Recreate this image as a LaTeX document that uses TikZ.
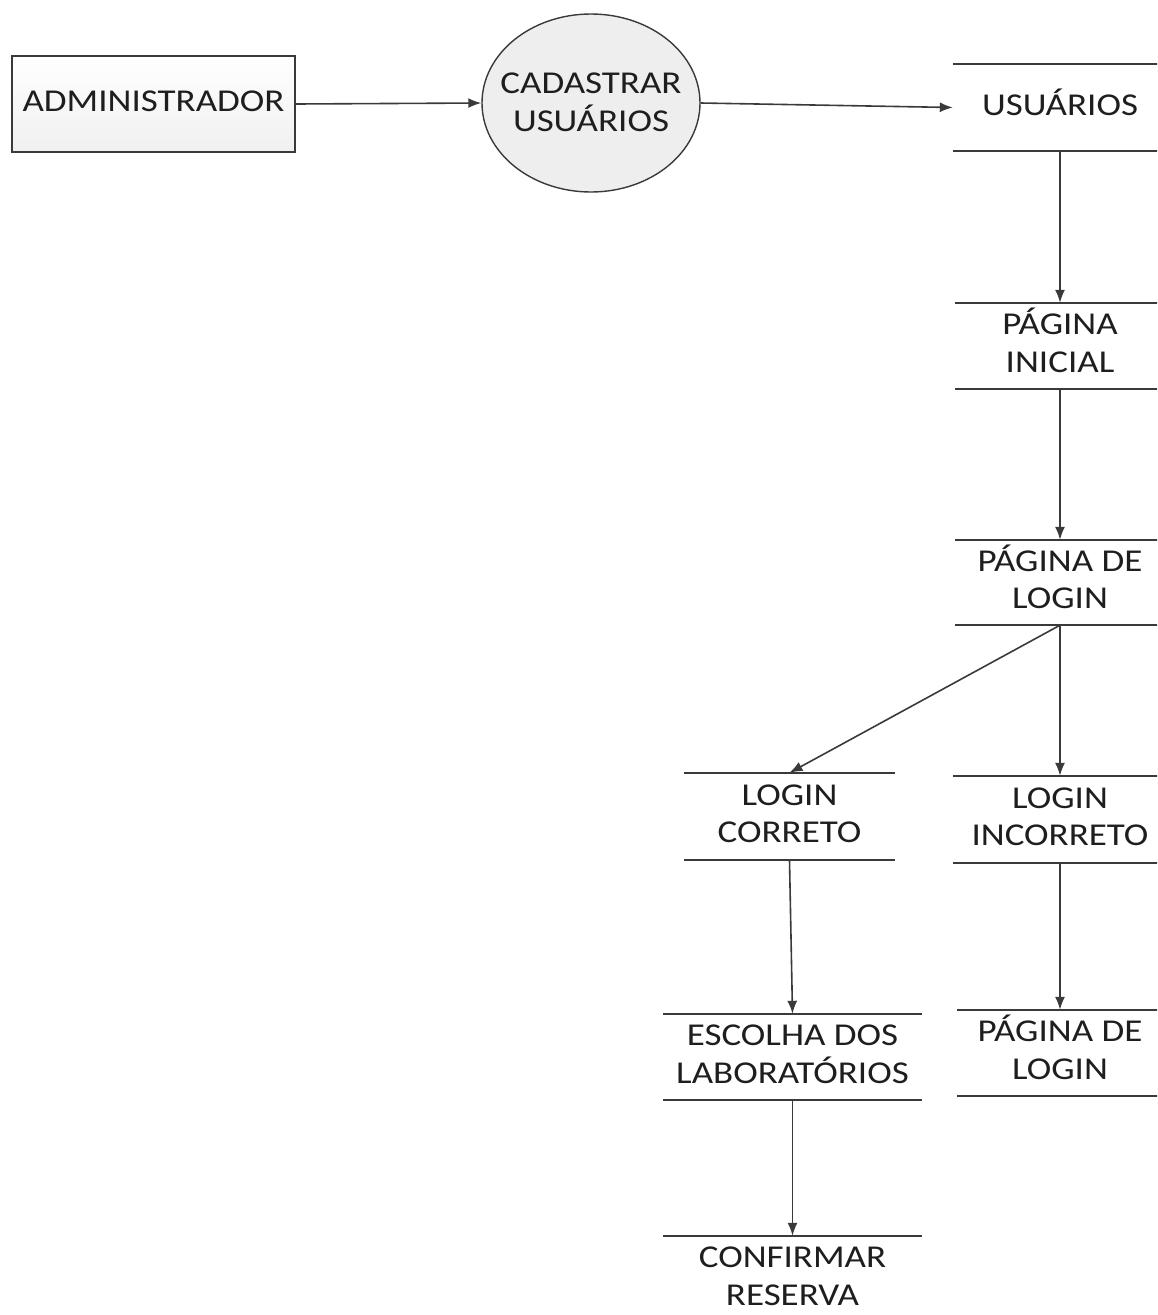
\documentclass[tikz,border=0pt]{standalone}
\usepackage{fontspec}
\usepackage{graphicx}
\setmainfont{Carlito}
\usetikzlibrary{arrows.meta,shapes.geometric}
\definecolor{ln}{HTML}{3A3A3A}
\definecolor{tx}{HTML}{1E1E1E}
\newcommand{\T}[1]{\scalebox{1}[0.86]{\fontsize{37}{43.5}\selectfont\begin{tabular}{@{}c@{}}#1\end{tabular}}}
\tikzset{
  lbl/.style={inner sep=0pt, text=tx},
  store/.style={lbl, minimum width=#1, rectangle},
  flow/.style={draw=ln, line width=1.6pt, -{Latex[length=13pt,width=10pt]}},
  rule/.style={draw=ln, line width=1.6pt},
}
\begin{document}
\begin{tikzpicture}[x=1pt,y=-1pt]
\useasboundingbox (0,0) rectangle (1157,1315);
\clip (0,0) rectangle (1157,1315);
% entity
\node[lbl, draw=ln, line width=1.4pt, top color=white, bottom color=gray!12,
      minimum width=283pt, minimum height=96pt] (adm) at (153.5,104) {\T{ADMINISTRADOR}};
% process
\node[lbl, ellipse, draw=ln, line width=1.4pt, fill=gray!13,
      minimum width=218pt, minimum height=178pt,
      label={[lbl, yshift=-2pt]center:\T{CADASTRAR\\USUÁRIOS}}] (cad) at (591,103) {};
% stores
\node[store=214pt, minimum height=87pt] (usu) at (1060,107.5) {\T{USUÁRIOS}};
\node[store=210pt, minimum height=86pt] (ini) at (1060,346) {\T{PÁGINA\\INICIAL}};
\node[store=210pt, minimum height=85pt] (log) at (1060,582.5) {\T{PÁGINA DE\\LOGIN}};
\node[store=211pt, minimum height=87pt] (ok) at (789.5,816.5) {\T{LOGIN\\CORRETO}};
\node[store=214pt, minimum height=87pt] (inc) at (1060,819.5) {\T{LOGIN\\INCORRETO}};
\node[store=259pt, minimum height=86pt] (esc) at (792.5,1057) {\T{ESCOLHA DOS\\LABORATÓRIOS}};
\node[store=206pt, minimum height=86pt] (log2) at (1060,1053) {\T{PÁGINA DE\\LOGIN}};
\node[store=259pt, minimum height=86pt] (conf) at (792.5,1279) {\T{CONFIRMAR\\RESERVA}};
\foreach \n in {usu,ini,log,ok,inc,esc,log2,conf}{
  \draw[rule] (\n.north west) -- (\n.north east);
  \draw[rule] (\n.south west) -- (\n.south east);
}
% flows
\draw[flow] (adm.east) -- (cad.west);
\draw[flow] (cad.east) -- (usu.west);
\draw[flow] (usu.south) -- (ini.north);
\draw[flow] (ini.south) -- (log.north);
\draw[flow] (log.south) -- (ok.north);
\draw[flow] (log.south) -- (inc.north);
\draw[flow] (ok.south) -- (esc.north);
\draw[flow] (inc.south) -- (log2.north);
\draw[flow] (esc.south) -- (conf.north);
\end{tikzpicture}
\end{document}
